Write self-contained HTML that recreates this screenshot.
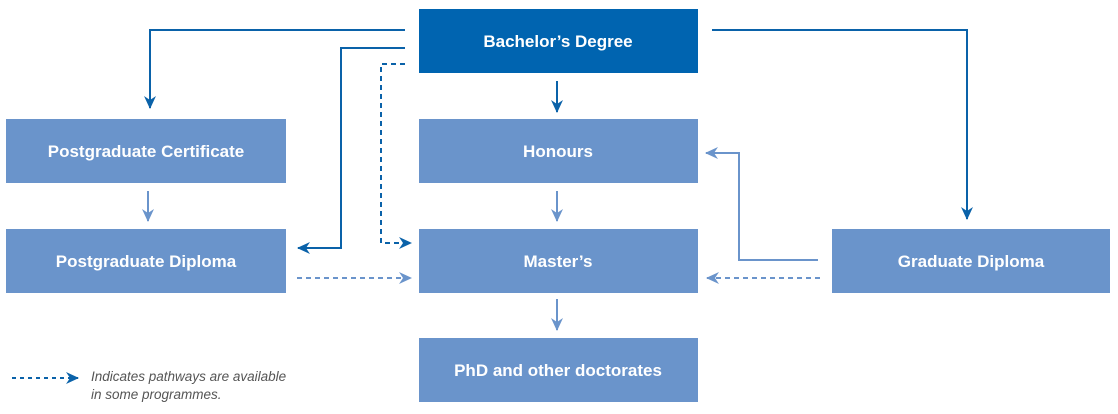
<!DOCTYPE html>
<html><head><meta charset="utf-8"><style>
html,body{margin:0;padding:0;background:#fff;width:1118px;height:414px;overflow:hidden}
svg{display:block}
text{font-family:"Liberation Sans",sans-serif;}
</style></head><body>
<svg width="1118" height="414" viewBox="0 0 1118 414" xmlns="http://www.w3.org/2000/svg">
<defs>
<marker id="ad" markerWidth="14" markerHeight="12" refX="12" refY="6" orient="auto" markerUnits="userSpaceOnUse" viewBox="0 0 14 12">
<path d="M0,0 L13,6 L0,12 L4,6 Z" fill="#0a62a9"/></marker>
<marker id="al" markerWidth="14" markerHeight="12" refX="12" refY="6" orient="auto" markerUnits="userSpaceOnUse" viewBox="0 0 14 12">
<path d="M0,0 L13,6 L0,12 L4,6 Z" fill="#6a94cb"/></marker>
</defs>
<g fill="#6a94cb">
<rect x="6" y="119" width="280" height="64"/>
<rect x="6" y="229" width="280" height="64"/>
<rect x="419" y="119" width="279" height="64"/>
<rect x="419" y="229" width="279" height="64"/>
<rect x="419" y="338" width="279" height="64"/>
<rect x="832" y="229" width="278" height="64"/>
</g>
<rect x="419" y="9" width="279" height="64" fill="#0064b0"/>
<g fill="#fff" font-size="17" font-weight="bold" text-anchor="middle">
<text x="558" y="47">Bachelor’s Degree</text>
<text x="558" y="157">Honours</text>
<text x="558" y="267">Master’s</text>
<text x="558" y="376">PhD and other doctorates</text>
<text x="146" y="157">Postgraduate Certificate</text>
<text x="146" y="267">Postgraduate Diploma</text>
<text x="971" y="267">Graduate Diploma</text>
</g>
<g fill="none" stroke="#0a62a9" stroke-width="2">
<path d="M405,30 H150 V108" marker-end="url(#ad)"/>
<path d="M405,48 H341 V248 H298" marker-end="url(#ad)"/>
<path d="M405,64 H381 V243 H411" stroke-dasharray="5,4" marker-end="url(#ad)"/>
<path d="M557,81 V112" marker-end="url(#ad)"/>
<path d="M712,30 H967 V219" marker-end="url(#ad)"/>
<path d="M12,378 H78" stroke-dasharray="4,4" marker-end="url(#ad)"/>
</g>
<g fill="none" stroke="#6a94cb" stroke-width="2">
<path d="M148,191 V221" marker-end="url(#al)"/>
<path d="M557,191 V221" marker-end="url(#al)"/>
<path d="M557,299 V330" marker-end="url(#al)"/>
<path d="M818,260 H739 V153 H706" marker-end="url(#al)"/>
<path d="M820,278 H707" stroke-dasharray="5,4" marker-end="url(#al)"/>
<path d="M297,278 H411" stroke-dasharray="5,4" marker-end="url(#al)"/>
</g>
<g fill="#555" font-size="13.5" font-style="italic">
<text x="91" y="381">Indicates pathways are available</text>
<text x="91" y="399">in some programmes.</text>
</g>
</svg>
</body></html>
